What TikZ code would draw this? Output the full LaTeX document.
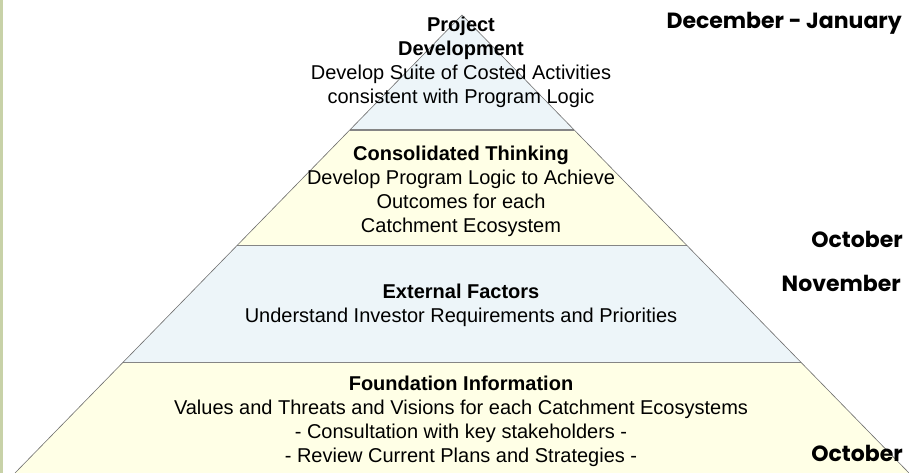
\documentclass[tikz,border=0pt]{standalone}
\usepackage{fontspec}
\setmainfont{Liberation Sans}
\newfontfamily\monthfont{Poppins}
\usepackage{tikz}
\usetikzlibrary{calc}
\definecolor{pstrip}{HTML}{C8D2A8}
\definecolor{pblue}{HTML}{EDF5F9}
\definecolor{pyellow}{HTML}{FFFFE6}
\definecolor{pline}{HTML}{858585}
\definecolor{pedge}{HTML}{6E6E6E}
\tikzset{
  blueband/.style={fill=pblue, draw=none},
  yellowband/.style={fill=pyellow, draw=none},
  divider/.style={draw=pline, line width=1.1pt},
  edge/.style={draw=pedge, line width=0.6pt},
  bandtext/.style={align=center, inner sep=0pt, font=\fontsize{20}{24}\selectfont},
  month/.style={anchor=east, inner sep=0pt, font=\monthfont\bfseries\fontsize{22}{26}\selectfont}
}

\begin{document}
\begin{tikzpicture}[x=1pt, y=-1pt]
  \useasboundingbox (0,0) rectangle (909,473);
  \fill[pstrip] (0,0) rectangle (3,473);

  \coordinate (apex) at (462,15);
  \coordinate (bl) at (15,473);
  \coordinate (br) at (909,473);
  \coordinate (l1) at ($(apex)!0.251!(bl)$);
  \coordinate (r1) at ($(apex)!0.251!(br)$);
  \coordinate (l2) at ($(apex)!0.504!(bl)$);
  \coordinate (r2) at ($(apex)!0.504!(br)$);
  \coordinate (l3) at ($(apex)!0.758!(bl)$);
  \coordinate (r3) at ($(apex)!0.758!(br)$);

  % bands, top to bottom
  \path[blueband] (apex) -- (r1) -- (l1) -- cycle;
  \path[yellowband] (l1) -- (r1) -- (r2) -- (l2) -- cycle;
  \path[blueband] (l2) -- (r2) -- (r3) -- (l3) -- cycle;
  \path[yellowband] (l3) -- (r3) -- (br) -- (bl) -- cycle;
  \draw[divider] (l1) -- (r1);
  \draw[divider] (l2) -- (r2);
  \draw[divider] (l3) -- (r3);
  \draw[edge] (bl) -- (apex) -- (br);

  \node[bandtext] (project) at (461,62)
    {\textbf{Project}\\\textbf{Development}\\Develop Suite of Costed Activities\\consistent with Program Logic};
  \node[bandtext] (consolidated) at (461,191)
    {\textbf{Consolidated Thinking}\\Develop Program Logic to Achieve\\Outcomes for each\\Catchment Ecosystem};
  \node[bandtext] (external) at (461,305)
    {\textbf{External Factors}\\Understand Investor Requirements and Priorities};
  \node[bandtext] (foundation) at (461,421)
    {\textbf{Foundation Information}\\Values and Threats and Visions for each Catchment Ecosystems\\- Consultation with key stakeholders -\\- Review Current Plans and Strategies -};

  \node[month] (decjan) at (902,23) {December - January};
  \node[month] (oct1) at (903,239) {October};
  \node[month] (nov) at (901,283) {November};
  \node[month] (oct2) at (903,453) {October};
\end{tikzpicture}
\end{document}
